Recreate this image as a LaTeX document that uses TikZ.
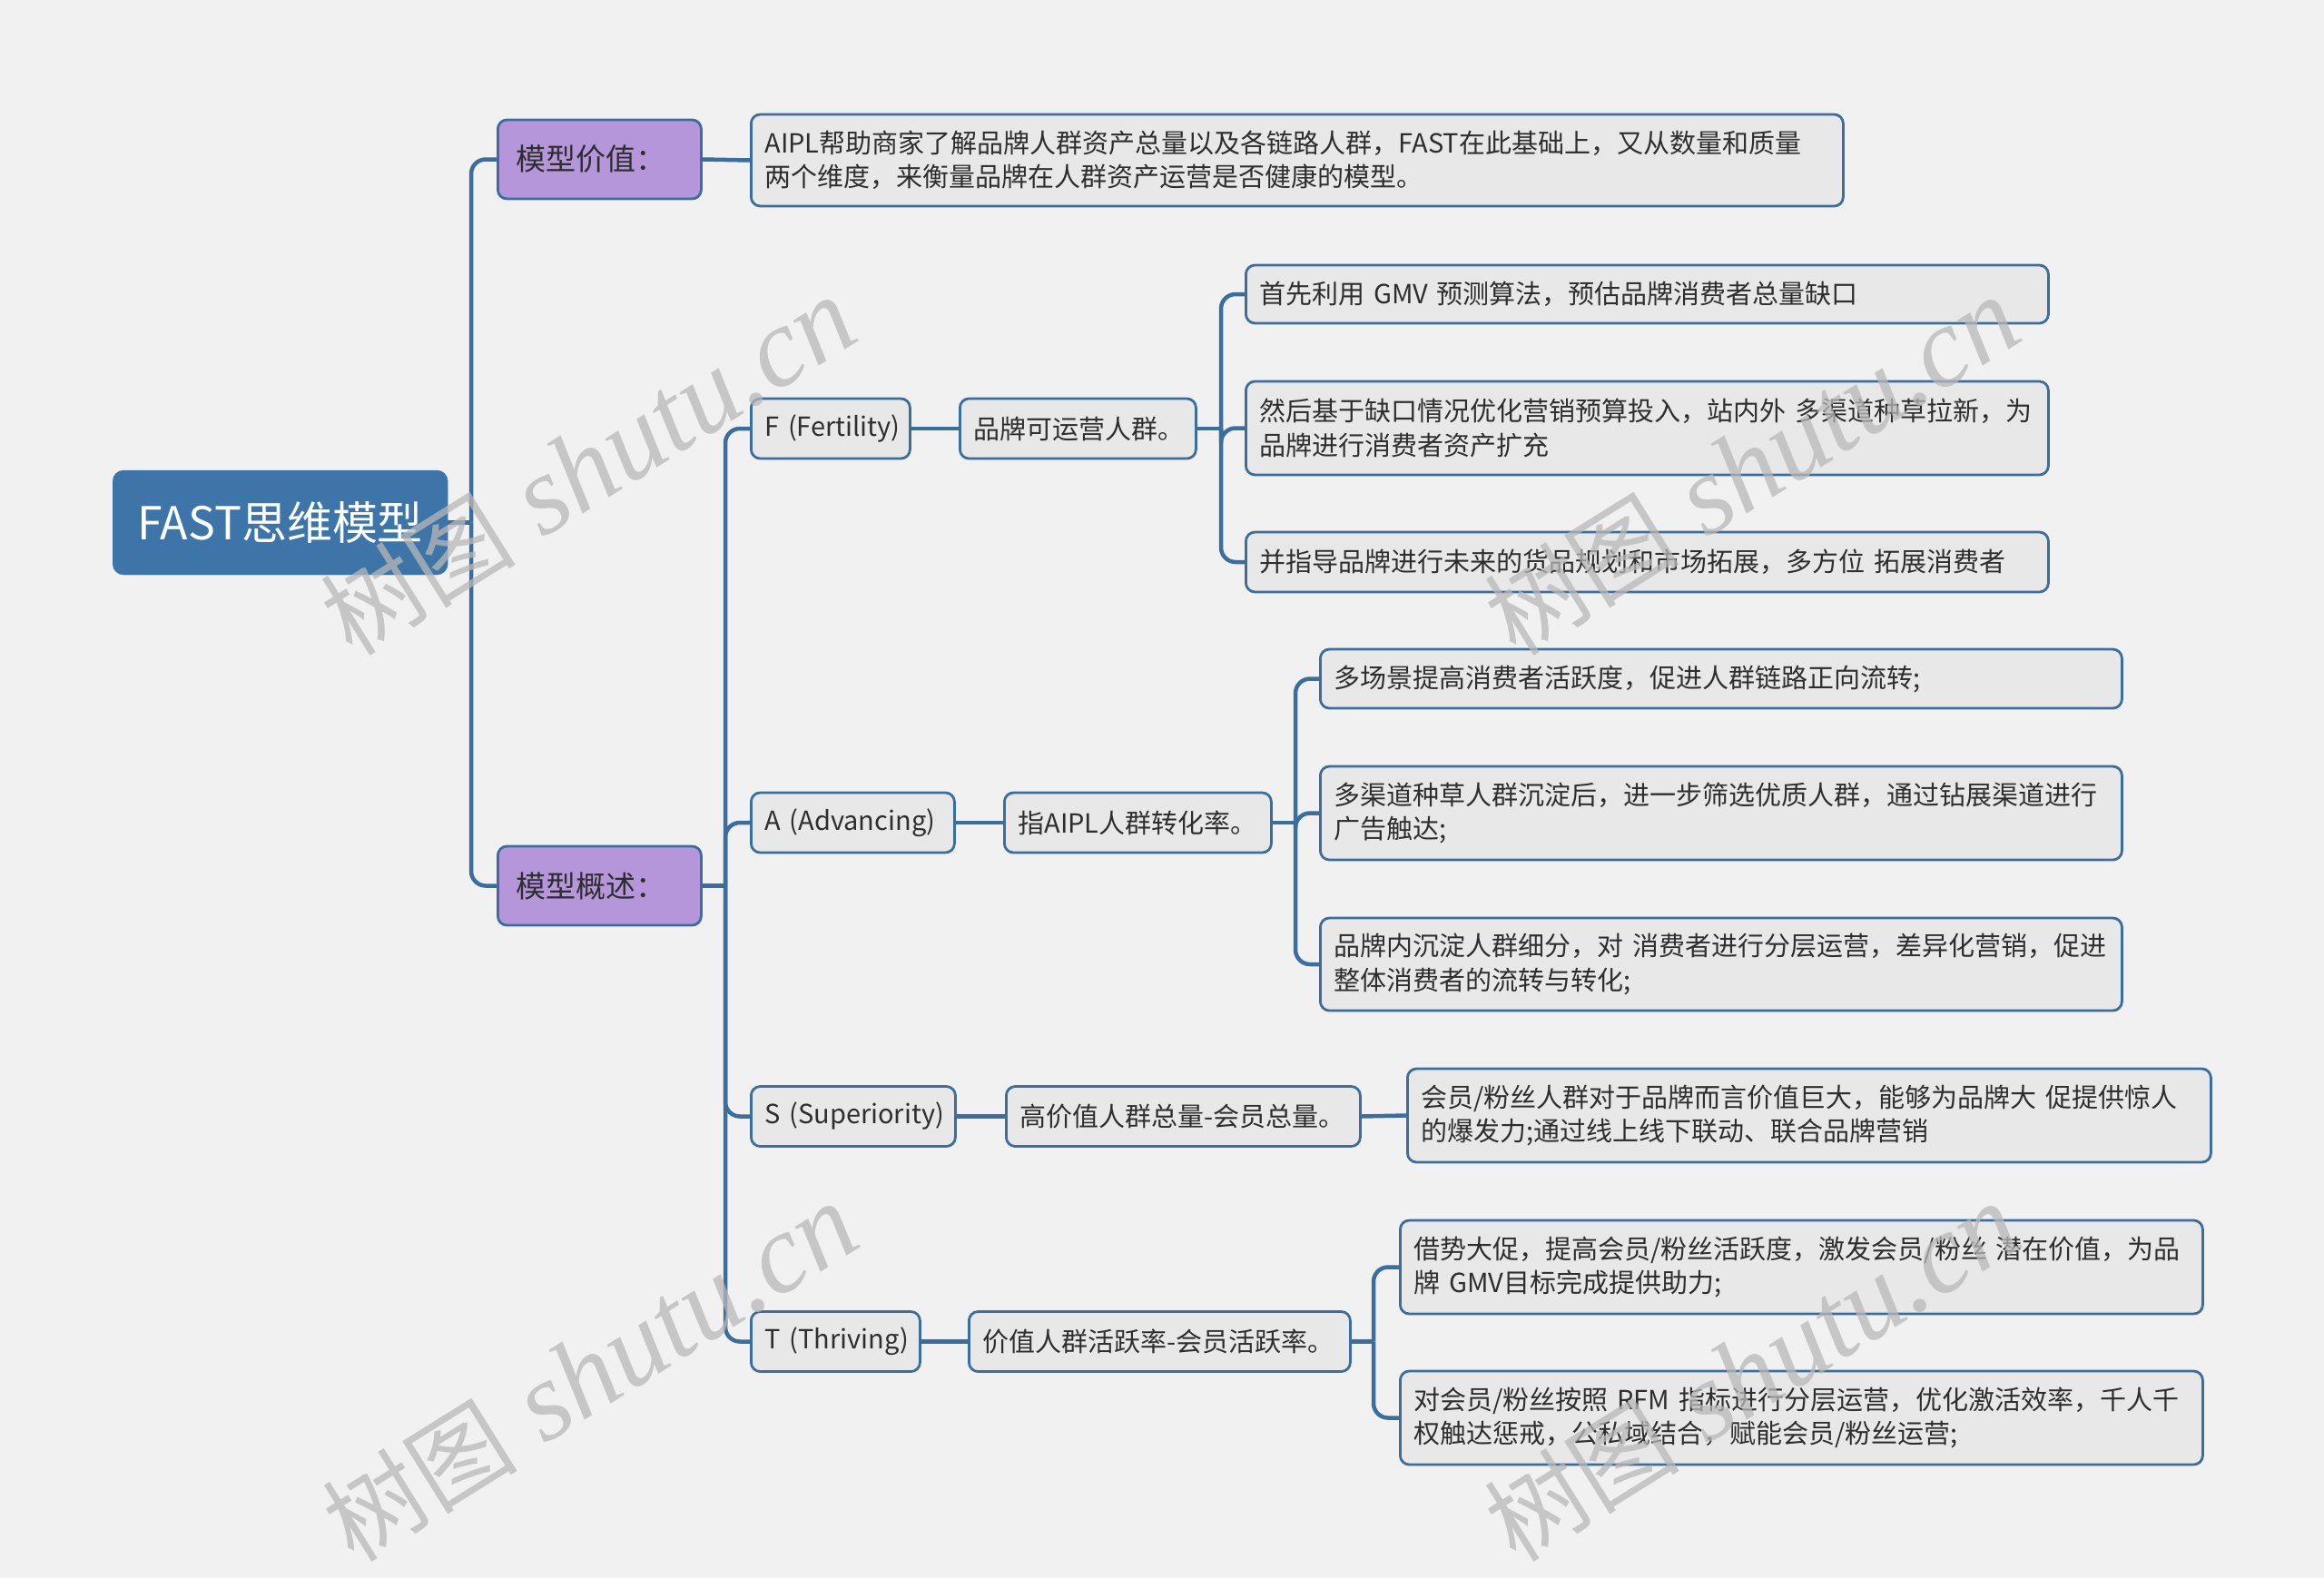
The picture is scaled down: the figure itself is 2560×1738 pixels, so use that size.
\documentclass[tikz,border=0pt]{standalone}
\usepackage{fontspec}
\setmainfont{Noto Sans CJK SC}
\newfontfamily\wmcjk{Noto Sans CJK SC}
\newfontfamily\wmlat{Liberation Serif}
\definecolor{bg}{HTML}{F1F1F1}
\definecolor{lineblue}{HTML}{3A6E9E}
\definecolor{rootblue}{HTML}{3E75A8}
\definecolor{purp}{HTML}{B596DA}
\definecolor{boxgray}{HTML}{E8E8E8}
\definecolor{txt}{HTML}{2E2E2E}
\definecolor{wm}{HTML}{B8B8B8}
\newcommand{\bodyfont}{\fontsize{29pt}{37.5pt}\selectfont}
\newcommand{\wmtext}{\wmcjk\fontsize{108pt}{110pt}\selectfont 树图\wmlat\itshape\fontsize{124pt}{124pt}\selectfont\ shutu.cn}
\tikzset{
  conn/.style={draw=lineblue, line width=4.5pt, rounded corners=16pt},
  boxbase/.style={draw=lineblue, line width=2.8pt, rounded corners=10pt, anchor=west, text=txt},
  leaf/.style={boxbase, fill=boxgray, font=\bodyfont, align=left, inner xsep=15pt, inner ysep=0pt},
  purpbox/.style={boxbase, fill=purp, font=\fontsize{33pt}{40pt}\selectfont, align=left, inner xsep=20pt, inner ysep=0pt},
  rootbox/.style={draw=rootblue, fill=rootblue, rounded corners=12pt, anchor=west, text=white, font=\fontsize{50pt}{60pt}\selectfont, align=center, inner sep=0pt},
  wmark/.style={text=wm, opacity=0.75, rotate=32}
}
\begin{document}
\begin{tikzpicture}[x=1pt,y=-1pt]
\fill[bg] (0,0) rectangle (2560,1738);
\useasboundingbox (0,0) rectangle (2560,1738);

% root and level 1
\node[rootbox, minimum width=369pt, minimum height=115pt] (root) at (124,575.5) {FAST思维模型};
\node[purpbox, text width=184pt, minimum height=87pt] (v1) at (547,175.5) {\mbox{模型价值：}};
\node[purpbox, text width=184pt, minimum height=87pt] (v2) at (547,975.5) {\mbox{模型概述：}};

\node[leaf, text width=1173pt, minimum height=101pt] (aipl) at (826,176.5) {AIPL帮助商家了解品牌人群资产总量以及各链路人群，FAST在此基础上，又从数量和质量\\两个维度，来衡量品牌在人群资产运营是否健康的模型。};

% level 2
\node[leaf, text width=145pt, minimum height=66pt] (F) at (826,472) {\mbox{F (Fertility)}};
\node[leaf, text width=194pt, minimum height=66pt] (A) at (826,906) {\mbox{A (Advancing)}};
\node[leaf, text width=195pt, minimum height=66pt] (S) at (826,1229.5) {\mbox{S (Superiority)}};
\node[leaf, text width=156pt, minimum height=66pt] (T) at (826,1477.5) {\mbox{T (Thriving)}};

% level 3
\node[leaf, text width=230pt, minimum height=66pt] (Fm) at (1056,472) {\mbox{品牌可运营人群。}};
\node[leaf, text width=264pt, minimum height=66pt] (Am) at (1105,906) {\mbox{指AIPL人群转化率。}};
\node[leaf, text width=360pt, minimum height=66pt] (Sm) at (1107,1229.5) {\mbox{高价值人群总量-会员总量。}};
\node[leaf, text width=390pt, minimum height=66pt] (Tm) at (1066,1477.5) {\mbox{价值人群活跃率-会员活跃率。}};

% level 4
\node[leaf, text width=854pt, minimum height=64pt] (F1) at (1371,324) {\mbox{首先利用 GMV 预测算法，预估品牌消费者总量缺口}};
\node[leaf, text width=854pt, minimum height=103pt] (F2) at (1371,471.5) {然后基于缺口情况优化营销预算投入，站内外 多渠道种草拉新，为\\品牌进行消费者资产扩充};
\node[leaf, text width=854pt, minimum height=66pt] (F3) at (1371,619) {\mbox{并指导品牌进行未来的货品规划和市场拓展，多方位 拓展消费者}};

\node[leaf, text width=853pt, minimum height=65pt] (A1) at (1453,747.5) {\mbox{多场景提高消费者活跃度，促进人群链路正向流转;}};
\node[leaf, text width=853pt, minimum height=103pt] (A2) at (1453,895.5) {多渠道种草人群沉淀后，进一步筛选优质人群，通过钻展渠道进行\\广告触达;};
\node[leaf, text width=853pt, minimum height=102pt] (A3) at (1453,1062) {品牌内沉淀人群细分，对 消费者进行分层运营，差异化营销，促进\\整体消费者的流转与转化;};

\node[leaf, text width=855pt, minimum height=103pt] (S1) at (1549,1228.5) {会员/粉丝人群对于品牌而言价值巨大，能够为品牌大 促提供惊人\\的爆发力;通过线上线下联动、联合品牌营销};

\node[leaf, text width=854pt, minimum height=103pt] (T1) at (1541,1395.5) {借势大促，提高会员/粉丝活跃度，激发会员/粉丝 潜在价值，为品\\牌 GMV目标完成提供助力;};
\node[leaf, text width=854pt, minimum height=103pt] (T2) at (1541,1561.5) {对会员/粉丝按照 RFM 指标进行分层运营，优化激活效率，千人千\\权触达惩戒，公私域结合，赋能会员/粉丝运营;};

% junctions
\coordinate (j0) at (519,575.5);
\coordinate (j1) at (799,975.5);
\coordinate (jF) at (1345,472);
\coordinate (jA) at (1427,906);
\coordinate (jT) at (1513,1477.5);

% connectors
\draw[conn] (root.east) -- (j0);
\draw[conn] (j0) |- (v1.west);
\draw[conn] (j0) |- (v2.west);
\draw[conn] (v1.east) -- (aipl.west);

\draw[conn] (v2.east) -- (j1);
\draw[conn] (j1) |- (F.west);
\draw[conn] (j1) |- (A.west);
\draw[conn] (j1) |- (S.west);
\draw[conn] (j1) |- (T.west);

\draw[conn] (F.east) -- (Fm.west);
\draw[conn] (A.east) -- (Am.west);
\draw[conn] (S.east) -- (Sm.west);
\draw[conn] (T.east) -- (Tm.west);

\draw[conn] (Fm.east) -- (jF);
\draw[conn] (jF) |- (F1.west);
\draw[conn] (jF) |- (F2.west);
\draw[conn] (jF) |- (F3.west);

\draw[conn] (Am.east) -- (jA);
\draw[conn] (jA) |- (A1.west);
\draw[conn] (jA) |- (A2.west);
\draw[conn] (jA) |- (A3.west);

\draw[conn] (Sm.east) -- (S1.west);

\draw[conn] (Tm.east) -- (jT);
\draw[conn] (jT) |- (T1.west);
\draw[conn] (jT) |- (T2.west);

% watermarks
\node[wmark] (wm1) at (648,514) {\wmtext};
\node[wmark] (wm2) at (650,1512) {\wmtext};
\node[wmark] (wm3) at (1930,514) {\wmtext};
\node[wmark] (wm4) at (1930,1512) {\wmtext};
\end{tikzpicture}
\end{document}
